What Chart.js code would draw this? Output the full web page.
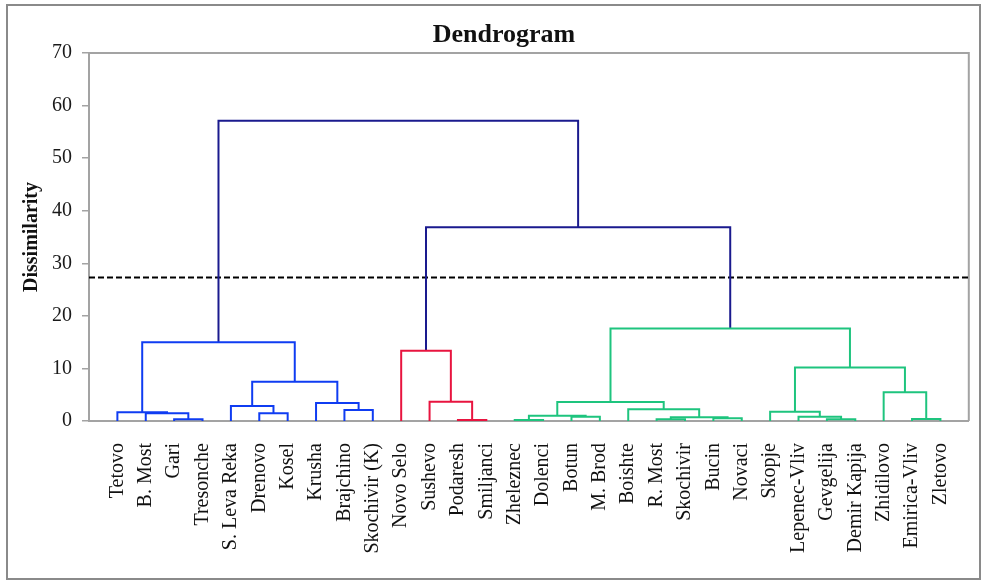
<!DOCTYPE html>
<html>
<head>
<meta charset="utf-8">
<script src="https://cdn.jsdelivr.net/npm/chart.js@4/dist/chart.umd.min.js"></script>
<style>
  html, body { margin: 0; padding: 0; background: #fff; }
  #wrap { width: 987px; height: 584px; position: relative; }
</style>
</head>
<body>
<div id="wrap"><canvas id="c" width="987" height="584"></canvas></div>
<script>
// Sampling sites, in dendrogram leaf order
const leaves = ['Tetovo', 'B. Most', 'Gari', 'Tresonche', 'S. Leva Reka', 'Drenovo', 'Kosel',
  'Krusha', 'Brajchino', 'Skochivir (K)', 'Novo Selo', 'Sushevo', 'Podaresh', 'Smiljanci',
  'Zheleznec', 'Dolenci', 'Botun', 'M. Brod', 'Boishte', 'R. Most', 'Skochivir', 'Bucin',
  'Novaci', 'Skopje', 'Lepenec-Vliv', 'Gevgelija', 'Demir Kapija', 'Zhidilovo', 'Emirica-Vliv',
  'Zletovo'];

// Agglomeration steps: node ids below 30 are leaves, id 30 + k is the node made by step k
const mergeLeft   = [2, 1, 0, 5, 4, 8, 7, 34, 32, 12, 11, 10, 14, 16, 42, 19, 21, 45, 18, 44, 25, 24, 23, 28, 27, 52, 49, 41, 38];
const mergeRight  = [3, 30, 31, 6, 33, 9, 35, 36, 37, 13, 39, 40, 15, 17, 43, 20, 22, 46, 47, 48, 26, 50, 51, 29, 53, 54, 55, 56, 57];
const mergeHeight = [0.32, 1.46, 1.65, 1.46, 2.85, 2.09, 3.42, 7.48, 14.97, 0.19, 3.67, 13.37,
  0.19, 0.82, 1.0, 0.32, 0.5, 0.7, 2.22, 3.6, 0.32, 0.82, 1.77, 0.38, 5.46, 10.2, 17.6, 36.85, 57.1];

// Dissimilarity axis ticks and the truncation level
const yTicks = [0, 10, 20, 30, 40, 50, 60, 70];
const cutLevel = 27.3;

// Styling
const clusterColors = ['#0f3cf2', '#e8143f', '#1ec47e'];
const aboveCutColor = '#1a1a8e';
const axisGray = '#a3a3a3';
const serif = '"Liberation Serif", "Times New Roman", serif';

const nLeaves = leaves.length;
const nodeX = leaves.map((_, i) => i);
const nodeH = leaves.map(() => 0);
mergeHeight.forEach((h, k) => {
  nodeX.push((nodeX[mergeLeft[k]] + nodeX[mergeRight[k]]) / 2);
  nodeH.push(h);
});

// Colour subtrees that sit below the cut; links above it stay dark
const nodeColor = new Array(nodeX.length).fill(aboveCutColor);
let clusterCount = 0;
function paint(id, color) {
  nodeColor[id] = color;
  if (id >= nLeaves) {
    paint(mergeLeft[id - nLeaves], color);
    paint(mergeRight[id - nLeaves], color);
  }
}
function walk(id) {
  if (nodeH[id] <= cutLevel) {
    paint(id, clusterColors[clusterCount++ % clusterColors.length]);
  } else {
    walk(mergeLeft[id - nLeaves]);
    walk(mergeRight[id - nLeaves]);
  }
}
walk(nodeX.length - 1);

const linkSets = mergeHeight.map((h, k) => {
  const a = mergeLeft[k], b = mergeRight[k];
  return {
    data: [
      { x: nodeX[a], y: nodeH[a] },
      { x: nodeX[a], y: h },
      { x: nodeX[b], y: h },
      { x: nodeX[b], y: nodeH[b] }
    ],
    borderColor: nodeColor[nLeaves + k],
    borderWidth: 2,
    showLine: true,
    pointRadius: 0,
    tension: 0,
    borderJoinStyle: 'miter',
    borderCapStyle: 'butt'
  };
});

const cutSet = {
  data: [{ x: -1, y: cutLevel }, { x: nLeaves, y: cutLevel }],
  borderColor: '#000',
  borderWidth: 2,
  borderDash: [6, 3],
  showLine: true,
  pointRadius: 0
};

const decor = {
  id: 'decor',
  beforeDraw(chart) {
    const ctx = chart.ctx;
    ctx.save();
    ctx.fillStyle = '#fff';
    ctx.fillRect(0, 0, chart.width, chart.height);
    ctx.strokeStyle = '#8a8a8a';
    ctx.lineWidth = 2;
    ctx.strokeRect(7, 5, 973, 574);
    ctx.restore();
  },
  beforeDatasetsDraw(chart) {
    const { ctx, chartArea: a } = chart;
    ctx.save();
    ctx.strokeStyle = axisGray;
    ctx.lineWidth = 2;
    ctx.beginPath();
    ctx.moveTo(a.left, a.top);
    ctx.lineTo(a.right, a.top);
    ctx.lineTo(a.right, a.bottom);
    ctx.stroke();
    ctx.restore();
  },
  afterDraw(chart) {
    const ctx = chart.ctx;
    ctx.save();
    ctx.fillStyle = '#111';
    ctx.font = 'bold 26px ' + serif;
    ctx.textAlign = 'center';
    ctx.textBaseline = 'alphabetic';
    ctx.fillText('Dendrogram', 504, 41.5);
    ctx.restore();
  }
};

Chart.defaults.font.family = serif;
Chart.defaults.color = '#1a1a1a';

new Chart(document.getElementById('c'), {
  type: 'scatter',
  data: { datasets: [...linkSets, cutSet] },
  plugins: [decor],
  options: {
    responsive: false,
    animation: false,
    events: [],
    layout: { padding: { left: 9, right: 18, top: 53, bottom: 23 } },
    plugins: { legend: { display: false }, tooltip: { enabled: false }, title: { display: false } },
    scales: {
      x: {
        type: 'linear',
        min: -1,
        max: nLeaves,
        afterBuildTicks(scale) { scale.ticks = leaves.map((_, i) => ({ value: i })); },
        afterFit(scale) { scale.height = 140; },
        ticks: {
          autoSkip: false,
          minRotation: 90,
          maxRotation: 90,
          padding: 22,
          color: '#111',
          font: { size: 20 },
          callback: (v) => leaves[v]
        },
        grid: { display: false, drawTicks: false },
        border: { display: true, color: axisGray, width: 2 }
      },
      y: {
        min: 0,
        max: 70,
        afterBuildTicks(scale) { scale.ticks = yTicks.map(v => ({ value: v })); },
        afterFit(scale) { scale.width = 80; },
        ticks: { padding: 10, color: '#1a1a1a', font: { size: 20 } },
        grid: { display: true, drawOnChartArea: false, drawTicks: true, tickLength: 7, color: axisGray, lineWidth: 1.5 },
        border: { display: true, color: axisGray, width: 2 },
        title: {
          display: true,
          text: 'Dissimilarity',
          color: '#111',
          font: { size: 20, weight: 'bold' },
          padding: { top: 11, bottom: 0 }
        }
      }
    }
  }
});
</script>
</body>
</html>
